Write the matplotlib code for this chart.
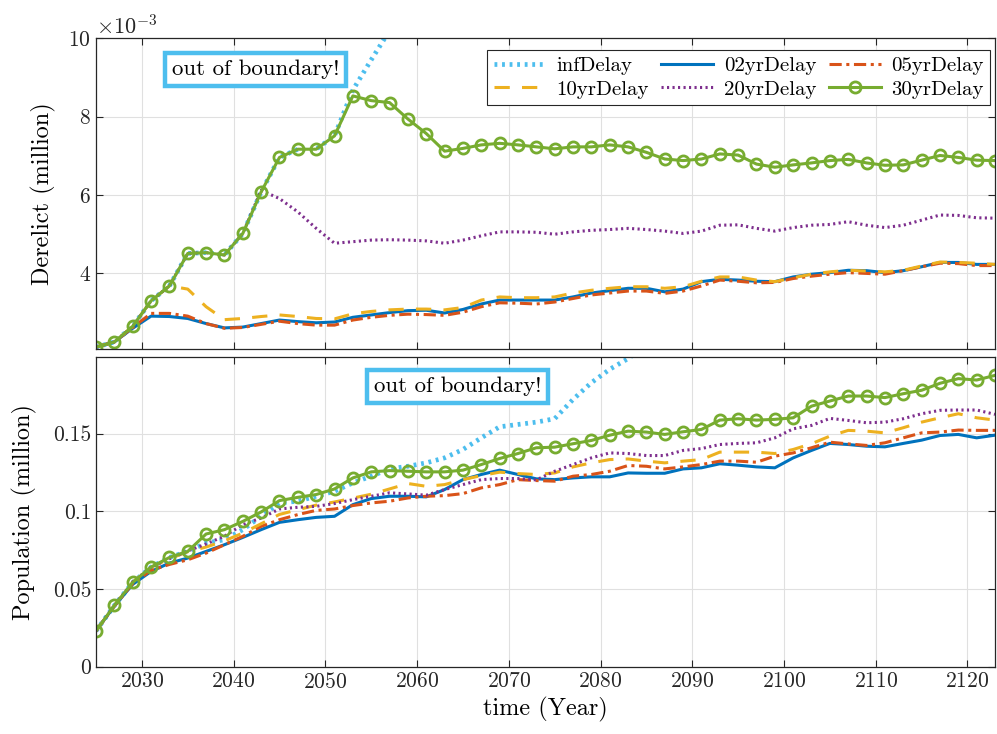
import numpy as np
import matplotlib
matplotlib.use("Agg")
import matplotlib.pyplot as plt
from matplotlib.ticker import ScalarFormatter, FuncFormatter

plt.rcParams['font.family'] = ['cmr10', 'DejaVu Serif']
plt.rcParams['mathtext.fontset'] = 'cm'
plt.rcParams['axes.formatter.use_mathtext'] = True

# ------------------------------------------------------------
# data, one value every 2 years
# ------------------------------------------------------------
years = np.arange(2025, 2124, 2)
labels = ['infDelay', '02yrDelay', '05yrDelay', '10yrDelay', '20yrDelay', '30yrDelay']

# derelict, in units of 1e-3 million
der_inf = [2.12, 2.25, 2.65, 3.30, 3.68, 4.51, 4.53, 4.47, 5.02, 6.08,
           6.96, 7.17, 7.17, 7.51, 8.68, 9.45, 10.2, 11.0] + [np.nan] * 32
der_02 = [2.12, 2.25, 2.60, 2.91, 2.90, 2.85, 2.72, 2.61, 2.63, 2.72,
          2.81, 2.77, 2.74, 2.76, 2.88, 2.94, 3.00, 3.05, 3.06, 2.99,
          3.08, 3.22, 3.32, 3.32, 3.32, 3.32, 3.40, 3.50, 3.56, 3.62,
          3.62, 3.53, 3.60, 3.79, 3.85, 3.83, 3.80, 3.79, 3.91, 3.98,
          4.02, 4.08, 4.07, 4.02, 4.07, 4.17, 4.28, 4.28, 4.23, 4.23]
der_05 = [2.12, 2.25, 2.62, 2.98, 2.98, 2.91, 2.72, 2.60, 2.62, 2.70,
          2.78, 2.72, 2.68, 2.68, 2.81, 2.88, 2.93, 2.96, 2.95, 2.93,
          3.01, 3.15, 3.25, 3.24, 3.22, 3.27, 3.36, 3.45, 3.50, 3.55,
          3.55, 3.49, 3.55, 3.68, 3.83, 3.80, 3.76, 3.77, 3.87, 3.93,
          3.98, 4.02, 4.00, 3.98, 4.07, 4.17, 4.26, 4.25, 4.20, 4.20]
der_10 = [2.12, 2.25, 2.65, 3.30, 3.68, 3.60, 3.15, 2.82, 2.85, 2.90,
          2.94, 2.90, 2.85, 2.84, 2.97, 3.03, 3.07, 3.09, 3.09, 3.07,
          3.13, 3.32, 3.40, 3.38, 3.38, 3.40, 3.50, 3.57, 3.62, 3.66,
          3.66, 3.62, 3.66, 3.80, 3.91, 3.91, 3.83, 3.79, 3.89, 3.98,
          4.04, 4.08, 4.06, 4.04, 4.08, 4.19, 4.29, 4.28, 4.26, 4.23]
der_20 = [2.12, 2.25, 2.65, 3.30, 3.68, 4.51, 4.53, 4.47, 5.02, 6.12,
          5.91, 5.57, 5.15, 4.77, 4.81, 4.85, 4.86, 4.85, 4.83, 4.77,
          4.85, 4.96, 5.06, 5.06, 5.05, 5.00, 5.06, 5.10, 5.12, 5.15,
          5.12, 5.08, 5.02, 5.08, 5.23, 5.24, 5.15, 5.08, 5.17, 5.23,
          5.25, 5.32, 5.23, 5.17, 5.23, 5.36, 5.49, 5.48, 5.42, 5.41]
der_30 = [2.12, 2.25, 2.65, 3.30, 3.68, 4.51, 4.53, 4.47, 5.02, 6.08,
          6.96, 7.17, 7.17, 7.51, 8.53, 8.41, 8.36, 7.94, 7.57, 7.12,
          7.19, 7.28, 7.32, 7.28, 7.23, 7.18, 7.23, 7.23, 7.28, 7.23,
          7.09, 6.92, 6.88, 6.92, 7.05, 7.02, 6.79, 6.71, 6.77, 6.82,
          6.88, 6.91, 6.82, 6.76, 6.77, 6.89, 7.01, 6.96, 6.89, 6.88]

# population, million
pop_inf = [0.0230, 0.0394, 0.0542, 0.0641, 0.0703, 0.0742, 0.0796, 0.0817, 0.0882, 0.0968,
           0.1054, 0.1065, 0.1097, 0.1129, 0.1183, 0.1226, 0.1273, 0.1290, 0.1312, 0.1344,
           0.1398, 0.1473, 0.1544, 0.1559, 0.1574, 0.1596, 0.1720, 0.1828, 0.1914, 0.1983,
           0.2070] + [np.nan] * 19
pop_02 = [0.0230, 0.0390, 0.0530, 0.0613, 0.0667, 0.0699, 0.0742, 0.0785, 0.0832, 0.0882,
          0.0929, 0.0946, 0.0961, 0.0968, 0.1043, 0.1082, 0.1097, 0.1097, 0.1093, 0.1140,
          0.1204, 0.1237, 0.1265, 0.1237, 0.1209, 0.1204, 0.1215, 0.1222, 0.1222, 0.1247,
          0.1245, 0.1245, 0.1273, 0.1280, 0.1306, 0.1297, 0.1286, 0.1280, 0.1344, 0.1392,
          0.1437, 0.1430, 0.1419, 0.1415, 0.1437, 0.1458, 0.1488, 0.1495, 0.1473, 0.1490]
pop_05 = [0.0230, 0.0390, 0.0535, 0.0620, 0.0658, 0.0688, 0.0731, 0.0785, 0.0839, 0.0903,
          0.0946, 0.0979, 0.1006, 0.1015, 0.1037, 0.1054, 0.1065, 0.1086, 0.1097, 0.1101,
          0.1114, 0.1151, 0.1172, 0.1204, 0.1198, 0.1194, 0.1226, 0.1237, 0.1258, 0.1295,
          0.1290, 0.1273, 0.1286, 0.1301, 0.1323, 0.1323, 0.1316, 0.1355, 0.1376, 0.1409,
          0.1445, 0.1434, 0.1424, 0.1441, 0.1473, 0.1505, 0.1510, 0.1523, 0.1521, 0.1521]
pop_10 = [0.0230, 0.0394, 0.0545, 0.0640, 0.0695, 0.0740, 0.0770, 0.0810, 0.0860, 0.0920,
          0.0980, 0.1010, 0.1040, 0.1060, 0.1085, 0.1110, 0.1144, 0.1179, 0.1161, 0.1172,
          0.1204, 0.1230, 0.1252, 0.1243, 0.1237, 0.1247, 0.1286, 0.1312, 0.1333, 0.1337,
          0.1323, 0.1312, 0.1323, 0.1333, 0.1381, 0.1381, 0.1381, 0.1372, 0.1398, 0.1435,
          0.1484, 0.1521, 0.1516, 0.1505, 0.1538, 0.1574, 0.1602, 0.1628, 0.1602, 0.1587]
pop_20 = [0.0230, 0.0394, 0.0545, 0.0640, 0.0695, 0.0745, 0.0790, 0.0840, 0.0914, 0.0957,
          0.1015, 0.1026, 0.1032, 0.1050, 0.1075, 0.1097, 0.1119, 0.1112, 0.1104, 0.1140,
          0.1172, 0.1204, 0.1211, 0.1211, 0.1202, 0.1258, 0.1301, 0.1344, 0.1376, 0.1372,
          0.1359, 0.1359, 0.1392, 0.1404, 0.1430, 0.1437, 0.1441, 0.1473, 0.1531, 0.1553,
          0.1598, 0.1585, 0.1570, 0.1574, 0.1596, 0.1628, 0.1650, 0.1652, 0.1652, 0.1624]
pop_30 = [0.0230, 0.0394, 0.0542, 0.0641, 0.0703, 0.0742, 0.0854, 0.0882, 0.0935, 0.0996,
          0.1069, 0.1090, 0.1108, 0.1144, 0.1215, 0.1254, 0.1262, 0.1258, 0.1254, 0.1254,
          0.1265, 0.1301, 0.1340, 0.1372, 0.1409, 0.1413, 0.1435, 0.1456, 0.1490, 0.1516,
          0.1510, 0.1495, 0.1512, 0.1527, 0.1587, 0.1596, 0.1587, 0.1592, 0.1602, 0.1677,
          0.1710, 0.1742, 0.1742, 0.1732, 0.1757, 0.1779, 0.1824, 0.1854, 0.1845, 0.1875]

derelict = [der_inf, der_02, der_05, der_10, der_20, der_30]
population = [pop_inf, pop_02, pop_05, pop_10, pop_20, pop_30]

# MATLAB default colours
colors = ['#4DBEEE', '#0072BD', '#D95319', '#EDB120', '#7E2F8E', '#77AC30']
styles = [dict(ls=(0, (0.6, 1.0)), lw=3.4),
          dict(ls='-', lw=2.2),
          dict(ls=(0, (4, 1.5, 1, 1.5)), lw=2.2),
          dict(ls=(0, (5, 4)), lw=2.2),
          dict(ls=(0, (0.7, 1.1)), lw=2.2),
          dict(ls='-', lw=2.2, marker='o', ms=8, mfc='none', mew=2)]

# ------------------------------------------------------------
# figure
# ------------------------------------------------------------
fig = plt.figure(figsize=(9.97, 7.34), dpi=100)
ax1 = fig.add_axes([0.0963, 0.525, 0.9017, 0.4228])
ax2 = fig.add_axes([0.0963, 0.0917, 0.9017, 0.4223])

handles = []
for vals, c, st, lab in zip(derelict, colors, styles, labels):
    h, = ax1.plot(years, np.array(vals) * 1e-3, color=c, label=lab, **st)
    handles.append(h)
for vals, c, st in zip(population, colors, styles):
    ax2.plot(years, vals, color=c, **st)

for ax in (ax1, ax2):
    ax.set_xlim(2025, 2123)
    ax.set_xticks(np.arange(2030, 2121, 10))
    ax.grid(True, color='#e0e0e0', lw=0.8)
    ax.set_axisbelow(True)
    ax.tick_params(direction='in', length=5, width=0.8, top=True, right=True,
                   labelsize=15.5, colors='#262626')
    for sp in ax.spines.values():
        sp.set_color('#262626')
        sp.set_linewidth(0.9)

ax1.tick_params(labelbottom=False)
ax1.set_ylim(2.08e-3, 10e-3)
ax1.set_yticks([4e-3, 6e-3, 8e-3, 10e-3])
fmt = ScalarFormatter(useMathText=True)
fmt.set_powerlimits((-3, -3))
ax1.yaxis.set_major_formatter(fmt)
ax1.yaxis.get_offset_text().set_fontsize(16)
ax1.set_ylabel('Derelict (million)', fontsize=17.5, labelpad=9)

ax2.set_ylim(0, 0.1995)
ax2.set_yticks([0, 0.05, 0.1, 0.15])
ax2.yaxis.set_major_formatter(FuncFormatter(lambda v, p: '%g' % v))
ax2.set_ylabel('Population (million)', fontsize=17.5, labelpad=11)
ax2.set_xlabel('time (Year)', fontsize=17.5)

box = dict(boxstyle='square,pad=0.3', fc='white', ec='#4DBEEE', lw=3.2)
ax1.text(2042.4, 9.2e-3, 'out of boundary!', fontsize=16.5, ha='center', va='center', bbox=box)
ax2.text(2064.4, 0.1805, 'out of boundary!', fontsize=16.5, ha='center', va='center', bbox=box)

order = [0, 3, 1, 4, 2, 5]
leg = ax1.legend([handles[i] for i in order], [labels[i] for i in order],
                 ncol=3, loc='upper right', bbox_to_anchor=(0.9944, 0.962),
                 borderaxespad=0, fontsize=15, handlelength=2.5, columnspacing=0.6,
                 handletextpad=0.5, labelspacing=0.25, borderpad=0.3,
                 fancybox=False, framealpha=1, edgecolor='#262626')
leg.get_frame().set_linewidth(0.8)

fig.savefig('out.png', dpi=100)
